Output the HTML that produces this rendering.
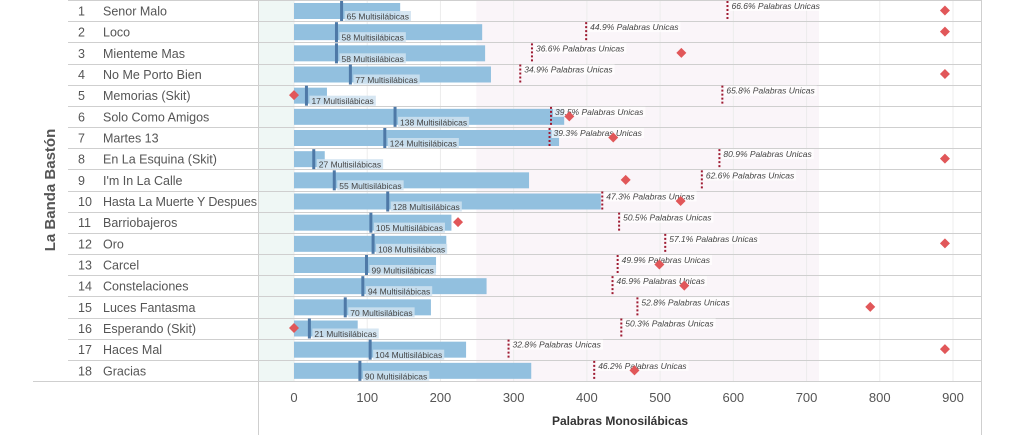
<!DOCTYPE html>
<html><head><meta charset="utf-8">
<style>
html,body{margin:0;padding:0;background:#fff;}
body{width:1012px;height:435px;overflow:hidden;font-family:"Liberation Sans",sans-serif;}
</style></head>
<body>
<svg id="chart" width="1012" height="435" xmlns="http://www.w3.org/2000/svg"></svg>
<script>
const songs=["Senor Malo","Loco","Mienteme Mas","No Me Porto Bien","Memorias (Skit)","Solo Como Amigos","Martes 13","En La Esquina (Skit)","I'm In La Calle","Hasta La Muerte Y Despues","Barriobajeros","Oro","Carcel","Constelaciones","Luces Fantasma","Esperando (Skit)","Haces Mal","Gracias"];
const mono=[145,257,261,269,45,369,362,42,321,419,215,208,194,263,187,87,235,324];
const multi=[65,58,58,77,17,138,124,27,55,128,105,108,99,94,70,21,104,90];
const uniqPos=[592,399,325,309,585,351,349,581,557,421,444,507,442,435,469,447,293,410];
const uniqPct=["66.6%","44.9%","36.6%","34.9%","65.8%","39.5%","39.3%","80.9%","62.6%","47.3%","50.5%","57.1%","49.9%","46.9%","52.8%","50.3%","32.8%","46.2%"];
const diamond=[889,889,529,889,0,376,436,889,453,528,224,889,499,533,787,0,889,465];
const ticks=[0,100,200,300,400,500,600,700,800,900];
const bandGreen=[-50,0];
const bandPink=[249,717];

const svg=document.getElementById('chart');
const NS='http://www.w3.org/2000/svg';
const X0=294,KX=659/900,TOP=0,RH=381/18;
function x(v){return X0+v*KX;}
function y(i){return TOP+i*RH;}
function mk(t,a,txt){const e=document.createElementNS(NS,t);for(const k in a)e.setAttribute(k,a[k]);if(txt!=null)e.textContent=txt;svg.appendChild(e);return e;}

let e;
e=mk('rect',{x:258,y:0,width:x(bandGreen[1])-258,height:381,fill:'#eff7f5'});


e=mk('rect',{x:x(bandPink[0]),y:0,width:x(bandPink[1])-x(bandPink[0]),height:381,fill:'#faf5f9'});


ticks.forEach(t=>{
  e=mk('line',{x1:x(t),x2:x(t),y1:0,y2:381,stroke:'#ececec','stroke-width':1});
  
  
  e=mk('text',{x:x(t),y:402,'text-anchor':'middle','font-size':13,fill:'#555'},t);
  
  
});
for(let i=0;i<=18;i++){
  const yy=Math.round(y(i))+0.5;
  e=mk('line',{x1:i==18?33:68,x2:981,y1:yy,y2:yy,stroke:'#cfcfcf','stroke-width':1});
  
  
}
e=mk('line',{x1:258.5,x2:258.5,y1:0,y2:435,stroke:'#cfcfcf'});


e=mk('line',{x1:981.5,x2:981.5,y1:0,y2:435,stroke:'#cfcfcf'});



songs.forEach((s,i)=>{
  const top=y(i);
  e=mk('text',{x:78,y:top+15.5,'font-size':12.5,fill:'#555'},String(i+1));
  
  
  e=mk('text',{x:103,y:top+15.5,'font-size':12.5,fill:'#555',textLength:0},s);
  e.removeAttribute('textLength');
  
  
  const w=e.getComputedTextLength();
  if(i==9&&w>154)e.setAttribute('textLength',154);
  e=mk('rect',{x:x(0),y:top+3,width:x(mono[i])-x(0),height:16,fill:'#92c0df'});
  
  
  const lbl=multi[i]+' Multisilábicas';
  const bg=mk('rect',{x:x(multi[i])+3,y:top+11,width:10,height:10,fill:'#cfe2f0','fill-opacity':0.85});
  
  
  e=mk('text',{x:x(multi[i])+5,y:top+19.5,'font-size':8.5,fill:'#444'},lbl);
  
  
  bg.setAttribute('width',e.getComputedTextLength()+4);
  e=mk('rect',{x:x(multi[i])-1.5,y:top+1,width:3,height:20,fill:'#4e79a7'});
  
  
  e=mk('line',{x1:x(uniqPos[i]),x2:x(uniqPos[i]),y1:top+1,y2:top+21,stroke:'#9e1b32','stroke-width':2,'stroke-dasharray':'2,2'});
  
  
  const ut=uniqPct[i]+' Palabras Unicas';
  const ub=mk('rect',{x:x(uniqPos[i])+2,y:top+1,width:10,height:10,fill:'#fff','fill-opacity':0.7});
  
  
  e=mk('text',{x:x(uniqPos[i])+4,y:top+9,'font-size':8.5,'font-style':'italic',fill:'#444'},ut);
  
  
  ub.setAttribute('width',e.getComputedTextLength()+4);
  const dx=x(diamond[i]),dy=top+10.5;
  e=mk('path',{d:`M${dx} ${dy-5}L${dx+5} ${dy}L${dx} ${dy+5}L${dx-5} ${dy}Z`,fill:'#e15759'});
  
  
});
e=mk('text',{x:0,y:0,'font-size':15,'font-weight':'bold',fill:'#555','text-anchor':'middle',transform:'translate(55,190) rotate(-90)'},'La Banda Bastón');


e=mk('text',{x:620,y:425,'font-size':12,'font-weight':'bold',fill:'#333','text-anchor':'middle'},'Palabras Monosilábicas');


</script>
</body></html>
